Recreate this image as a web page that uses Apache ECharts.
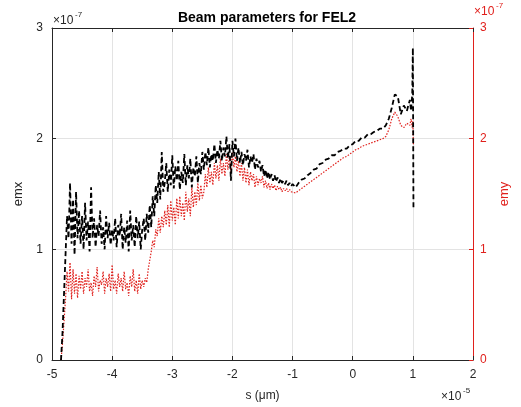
<!DOCTYPE html>
<html>
<head>
<meta charset="utf-8">
<script src="https://cdn.jsdelivr.net/npm/echarts@6/dist/echarts.min.js"></script>
<style>
    html, body { margin: 0; padding: 0; background: #fff; }
    #chart { width: 521px; height: 407px; }
</style>
</head>
<body>
<div id="chart"></div>
<script>
// s positions, in units of 1e-5
let sVals = [
    -4.850, -4.825, -4.800, -4.775, -4.750, -4.725, -4.700, -4.675, -4.650, -4.625, -4.600, -4.575, -4.550,
    -4.525, -4.500, -4.475, -4.450, -4.425, -4.400, -4.375, -4.350, -4.325, -4.300,
    -4.275, -4.250, -4.225, -4.200, -4.175, -4.150, -4.125, -4.100, -4.075, -4.050,
    -4.025, -4.000, -3.975, -3.950, -3.925, -3.900, -3.875, -3.850, -3.825, -3.800,
    -3.775, -3.750, -3.725, -3.700, -3.675, -3.650, -3.625, -3.600, -3.575, -3.550,
    -3.525, -3.500,
    -3.475, -3.450, -3.425, -3.400, -3.375, -3.350, -3.325, -3.300, -3.275, -3.250,
    -3.225, -3.200, -3.175, -3.150,
    -3.125, -3.100, -3.075, -3.050, -3.025, -3.000, -2.975, -2.950, -2.925, -2.900,
    -2.875, -2.850, -2.825, -2.800, -2.775, -2.750, -2.725, -2.700, -2.675, -2.650,
    -2.625, -2.600, -2.575, -2.550, -2.525, -2.500,
    -2.475, -2.450, -2.425, -2.400, -2.375, -2.350, -2.325, -2.300, -2.275, -2.250,
    -2.225, -2.200, -2.175, -2.150, -2.125, -2.100, -2.075, -2.050, -2.025, -2.000,
    -1.975, -1.950, -1.925, -1.900, -1.875, -1.850, -1.825, -1.800, -1.775, -1.750,
    -1.725, -1.700, -1.675, -1.650, -1.625, -1.600, -1.575, -1.550,
    -1.525, -1.500, -1.475, -1.450, -1.425, -1.400, -1.375, -1.350, -1.325, -1.300,
    -1.275, -1.250, -1.225, -1.200, -1.175, -1.150, -1.125, -1.100, -1.075, -1.050,
    -1.025, -1.000,
    -0.95, -0.90, -0.85, -0.80, -0.75, -0.70, -0.65, -0.60, -0.55, -0.50, -0.45, -0.40, -0.35,
    -0.30, -0.25, -0.20, -0.15, -0.10, -0.05, 0.00, 0.05, 0.10, 0.15, 0.20, 0.25,
    0.30, 0.35, 0.40, 0.45, 0.50, 0.55,
    0.60, 0.65, 0.70, 0.75, 0.80, 0.85, 0.90, 0.95,
    0.97, 0.99, 1.00, 1.005, 1.01
];

// emx, in units of 1e-7
let emxVals = [
    0.00, 0.25, 0.60, 0.95, 1.30, 1.10, 1.60, 1.05, 1.45, 0.95, 1.52, 1.10, 1.35,
    1.05, 1.30, 1.00, 1.42, 1.08, 1.25, 0.98, 1.56, 1.10, 1.28,
    1.02, 1.22, 1.12, 1.35, 1.05, 1.20, 1.00, 1.30, 1.10, 1.24,
    1.04, 1.18, 1.08, 1.28, 1.02, 1.22, 1.12, 1.32, 1.00, 1.20,
    1.06, 1.26, 0.98, 1.35, 1.08, 1.22, 1.02, 1.30, 1.10, 1.25,
    1.00, 1.18,
    1.28, 1.08, 1.32, 1.15, 1.40, 1.20, 1.48, 1.30, 1.58, 1.42,
    1.70, 1.45, 1.88, 1.52,
    1.60, 1.78, 1.52, 1.72, 1.58, 1.85, 1.55, 1.75, 1.62, 1.80,
    1.54, 1.70, 1.60, 1.86, 1.58, 1.76, 1.64, 1.82, 1.56, 1.74,
    1.66, 1.84, 1.60, 1.78, 1.68, 1.88,
    1.72, 1.88, 1.76, 1.92, 1.74, 1.86, 1.80, 1.95, 1.78, 1.90,
    1.82, 1.98, 1.80, 1.92, 1.84, 2.02, 1.82, 1.95, 1.62, 1.98,
    1.84, 2.00, 1.80, 1.92, 1.78, 1.88, 1.76, 1.86, 1.80, 1.90,
    1.74, 1.84, 1.78, 1.86, 1.72, 1.82, 1.74, 1.80,
    1.70, 1.76, 1.66, 1.72, 1.64, 1.70, 1.63, 1.68, 1.62, 1.67,
    1.61, 1.65, 1.60, 1.64, 1.60, 1.62, 1.59, 1.62, 1.58, 1.60,
    1.57, 1.59,
    1.56, 1.60, 1.63, 1.64, 1.67, 1.69, 1.72, 1.73, 1.77, 1.78, 1.81, 1.82, 1.85,
    1.85, 1.88, 1.89, 1.91, 1.91, 1.94, 1.95, 1.98, 1.98, 2.01, 2.01, 2.04,
    2.04, 2.06, 2.07, 2.09, 2.09, 2.12,
    2.18, 2.28, 2.40, 2.38, 2.22, 2.30, 2.25, 2.35,
    2.25, 2.40, 2.82, 2.10, 1.37
];

// emy, in units of 1e-7
let emyVals = [
    0.00, 0.15, 0.35, 0.55, 0.80, 0.62, 0.88, 0.55, 0.82, 0.60, 0.78, 0.56, 0.76,
    0.64, 0.80, 0.60, 0.74, 0.66, 0.82, 0.62, 0.70, 0.58, 0.76,
    0.66, 0.84, 0.62, 0.72, 0.68, 0.80, 0.60, 0.74, 0.66, 0.78,
    0.62, 0.86, 0.64, 0.72, 0.60, 0.78, 0.66, 0.74, 0.62, 0.80,
    0.64, 0.70, 0.58, 0.76, 0.66, 0.82, 0.62, 0.72, 0.60, 0.78,
    0.64, 0.72,
    0.66, 0.74, 0.70, 0.82, 0.90, 0.98, 1.08, 1.02, 1.18, 1.12,
    1.28, 1.15, 1.30, 1.20,
    1.35, 1.22, 1.40, 1.20, 1.44, 1.26, 1.38, 1.22, 1.46, 1.28,
    1.48, 1.30, 1.42, 1.26, 1.52, 1.34, 1.46, 1.30, 1.56, 1.38,
    1.52, 1.40, 1.60, 1.44, 1.58, 1.46,
    1.52, 1.68, 1.56, 1.74, 1.60, 1.70, 1.58, 1.78, 1.64, 1.76,
    1.62, 1.82, 1.68, 1.78, 1.66, 1.86, 1.72, 1.84, 1.70, 1.88,
    1.74, 1.84, 1.70, 1.80, 1.66, 1.78, 1.62, 1.74, 1.60, 1.72,
    1.58, 1.70, 1.62, 1.68, 1.56, 1.66, 1.58, 1.64,
    1.60, 1.66, 1.56, 1.62, 1.55, 1.60, 1.54, 1.59, 1.55, 1.58,
    1.53, 1.57, 1.54, 1.56, 1.52, 1.55, 1.53, 1.55, 1.52, 1.54,
    1.52, 1.53,
    1.51, 1.53, 1.55, 1.57, 1.59, 1.61, 1.63, 1.65, 1.67, 1.69, 1.71, 1.73, 1.75,
    1.77, 1.79, 1.81, 1.83, 1.84, 1.86, 1.88, 1.90, 1.91, 1.93, 1.94, 1.95,
    1.96, 1.97, 1.98, 1.99, 2.00, 2.02,
    2.08, 2.18, 2.24, 2.20, 2.12, 2.10, 2.14, 2.12,
    2.18, 2.10, 2.16, 2.02, 1.95
];

let xTicks = [-5, -4, -3, -2, -1, 0, 1, 2];
let yTicks = [0, 1, 2, 3];

let fontFamily = '"Liberation Sans", Arial, Helvetica, sans-serif';
let axisGray = '#262626';
let red = '#e0201c';

let chart = echarts.init(document.getElementById('chart'), null, {renderer: 'canvas'});

let emxData = sVals.map(function (s, i) { return [s, emxVals[i]]; });
let emyData = sVals.map(function (s, i) { return [s, emyVals[i]]; });

let option = {
    animation: false,
    backgroundColor: '#fff',
    textStyle: {fontFamily: fontFamily},
    title: {
        text: 'Beam parameters for FEL2',
        left: 262,
        top: 6,
        textAlign: 'center',
        textStyle: {fontSize: 14, fontWeight: 'bold', color: '#000', fontFamily: fontFamily}
    },
    grid: {left: 52, right: 48, top: 28, bottom: 47},
    xAxis: [
        {
            type: 'value',
            min: xTicks[0],
            max: xTicks[xTicks.length - 1],
            interval: 1,
            name: 's (\u03bcm)',
            nameLocation: 'middle',
            nameGap: 30,
            nameTextStyle: {fontSize: 12, color: axisGray},
            axisLine: {onZero: false, lineStyle: {color: axisGray, width: 1}},
            axisTick: {inside: true, length: 4, lineStyle: {color: axisGray}},
            axisLabel: {fontSize: 12, color: axisGray, margin: 9},
            splitLine: {show: true, lineStyle: {color: '#e3e3e3', width: 1}}
        },
        {
            type: 'value',
            position: 'top',
            min: xTicks[0],
            max: xTicks[xTicks.length - 1],
            interval: 1,
            axisLine: {show: true, onZero: false, lineStyle: {color: axisGray, width: 1}},
            axisTick: {show: true, inside: true, length: 4, lineStyle: {color: axisGray}},
            axisLabel: {show: false},
            splitLine: {show: false}
        }
    ],
    yAxis: [
        {
            type: 'value',
            position: 'left',
            min: yTicks[0],
            max: yTicks[yTicks.length - 1],
            interval: 1,
            name: 'emx',
            nameLocation: 'middle',
            nameGap: 27,
            nameRotate: 90,
            nameTextStyle: {fontSize: 13, color: axisGray},
            axisLine: {show: true, onZero: false, lineStyle: {color: axisGray, width: 1}},
            axisTick: {show: true, inside: true, length: 4, lineStyle: {color: axisGray}},
            axisLabel: {fontSize: 12, color: axisGray, margin: 9},
            splitLine: {show: true, lineStyle: {color: '#e3e3e3', width: 1}}
        },
        {
            type: 'value',
            position: 'right',
            min: yTicks[0],
            max: yTicks[yTicks.length - 1],
            interval: 1,
            name: 'emy',
            nameLocation: 'middle',
            nameGap: 22,
            nameRotate: 90,
            nameTextStyle: {fontSize: 13, color: red},
            axisLine: {show: true, onZero: false, lineStyle: {color: red, width: 1}},
            axisTick: {show: true, inside: true, length: 4, lineStyle: {color: red}},
            axisLabel: {fontSize: 12, color: red, margin: 7},
            splitLine: {show: false}
        }
    ],
    graphic: [
        {type: 'text', left: 53, top: 15, style: {text: '\u00d710', fontSize: 12, fill: axisGray, fontFamily: fontFamily}},
        {type: 'text', left: 75, top: 11, style: {text: '-7', fontSize: 8, fill: axisGray, fontFamily: fontFamily}},
        {type: 'text', left: 474, top: 6, style: {text: '\u00d710', fontSize: 12, fill: red, fontFamily: fontFamily}},
        {type: 'text', left: 496, top: 2, style: {text: '-7', fontSize: 8, fill: red, fontFamily: fontFamily}},
        {type: 'text', left: 441, top: 391, style: {text: '\u00d710', fontSize: 12, fill: axisGray, fontFamily: fontFamily}},
        {type: 'text', left: 463, top: 387, style: {text: '-5', fontSize: 8, fill: axisGray, fontFamily: fontFamily}}
    ],
    series: [
        {
            name: 'emy',
            type: 'line',
            xAxisIndex: 0,
            yAxisIndex: 1,
            data: emyData,
            showSymbol: false,
            lineStyle: {color: red, width: 1.2, type: [1.5, 1.5]},
            z: 2
        },
        {
            name: 'emx',
            type: 'line',
            xAxisIndex: 0,
            yAxisIndex: 0,
            data: emxData,
            showSymbol: false,
            lineStyle: {color: '#000', width: 1.8, type: [5, 3]},
            z: 3
        }
    ]
};
chart.setOption(option);
</script>
</body>
</html>
